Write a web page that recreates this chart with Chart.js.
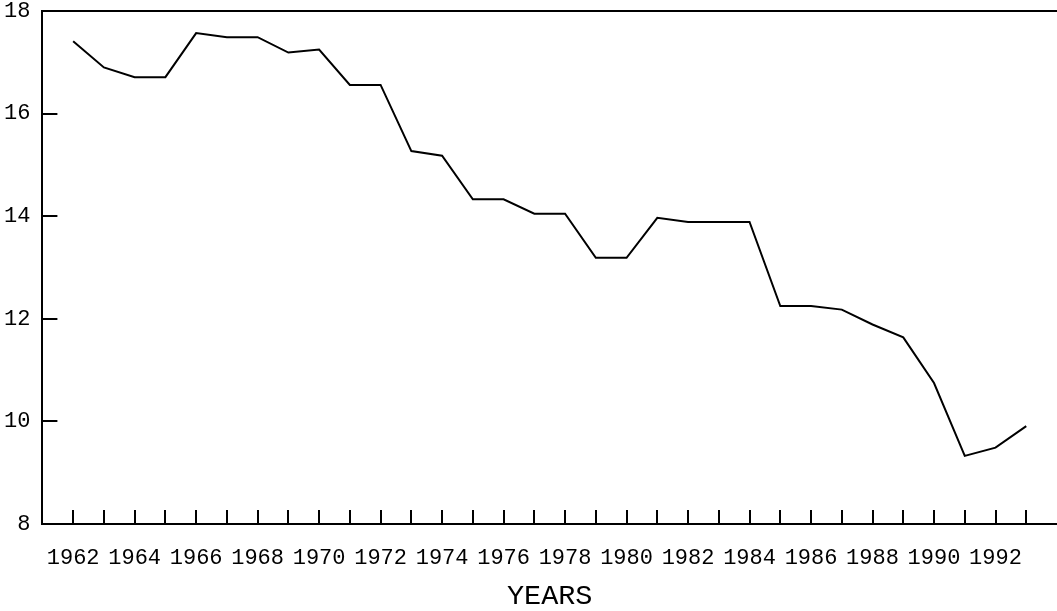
<!DOCTYPE html>
<html>
<head>
<meta charset="utf-8">
<script src="https://cdn.jsdelivr.net/npm/chart.js@4/dist/chart.umd.min.js"></script>
<style>
  html, body { margin: 0; padding: 0; background: #fff; }
  #wrap { width: 1057px; height: 611px; }
</style>
</head>
<body>
<div id="wrap"><canvas id="yearsChart"></canvas></div>
<script>
const years = [1962, 1963, 1964, 1965, 1966, 1967, 1968, 1969, 1970, 1971,
               1972, 1973, 1974, 1975, 1976, 1977, 1978, 1979, 1980, 1981,
               1982, 1983, 1984, 1985, 1986, 1987, 1988, 1989, 1990, 1991,
               1992, 1993];
const values = [17.41, 16.90, 16.71, 16.71, 17.57, 17.49, 17.49, 17.19, 17.25, 16.56,
                16.56, 15.27, 15.18, 14.33, 14.33, 14.05, 14.05, 13.19, 13.19, 13.97,
                13.89, 13.89, 13.89, 12.25, 12.25, 12.18, 11.89, 11.64, 10.75, 9.33,
                9.49, 9.91];
const yTicks = [8, 10, 12, 14, 16, 18];
const xLabelYears = [1962, 1964, 1966, 1968, 1970, 1972, 1974, 1976, 1978, 1980,
                     1982, 1984, 1986, 1988, 1990, 1992];

const FONT = '"Liberation Mono", "Courier New", monospace';

// short tick marks pointing into the plot, plus the frame line on top
const innerTicks = {
    id: 'innerTicks',
    afterDraw(chart) {
        const {ctx, chartArea: a, scales: {x, y}} = chart;
        ctx.save();
        ctx.strokeStyle = '#000';
        ctx.lineWidth = 2;
        ctx.beginPath();
        years.forEach(yr => {
            const px = Math.round(x.getPixelForValue(yr));
            ctx.moveTo(px, a.bottom);
            ctx.lineTo(px, a.bottom - 14);
        });
        yTicks.forEach(v => {
            const py = Math.round(y.getPixelForValue(v));
            ctx.moveTo(a.left, py);
            ctx.lineTo(a.left + 15, py);
        });
        ctx.moveTo(a.left, a.top);
        ctx.lineTo(a.right, a.top);
        ctx.stroke();
        ctx.restore();
    }
};

const ctx = document.getElementById('yearsChart').getContext('2d');
new Chart(ctx, {
    type: 'line',
    data: {
        datasets: [{
            data: years.map((yr, i) => ({x: yr, y: values[i]})),
            borderColor: '#000',
            borderWidth: 2,
            pointRadius: 0,
            tension: 0,
            fill: false
        }]
    },
    options: {
        responsive: true,
        maintainAspectRatio: false,
        animation: false,
        layout: {padding: {left: 4, top: 0, right: 0, bottom: 0}},
        plugins: {
            legend: {display: false},
            tooltip: {enabled: false}
        },
        scales: {
            x: {
                type: 'linear',
                min: 1961,
                max: 1994,
                // invisible outward ticks just to push the labels down
                grid: {display: true, drawOnChartArea: false, drawTicks: true,
                       tickLength: 21, color: 'rgba(0,0,0,0)', tickColor: 'rgba(0,0,0,0)'},
                border: {display: true, color: '#000', width: 2},
                ticks: {
                    stepSize: 1,
                    autoSkip: false,
                    maxRotation: 0,
                    padding: 0,
                    color: '#000',
                    font: {family: FONT, size: 22},
                    callback: (v) => xLabelYears.includes(v) ? String(v) : ''
                },
                title: {
                    display: true,
                    text: 'YEARS',
                    color: '#000',
                    font: {family: FONT, size: 28.5, lineHeight: 1},
                    padding: {top: 11, bottom: 0}
                }
            },
            y: {
                min: 8,
                max: 18,
                grid: {display: true, drawOnChartArea: false, drawTicks: true,
                       tickLength: 12, color: 'rgba(0,0,0,0)', tickColor: 'rgba(0,0,0,0)'},
                border: {display: true, color: '#000', width: 2},
                ticks: {
                    stepSize: 2,
                    padding: 0,
                    color: '#000',
                    font: {family: FONT, size: 22, lineHeight: 1}
                }
            }
        }
    },
    plugins: [innerTicks]
});
</script>
</body>
</html>
